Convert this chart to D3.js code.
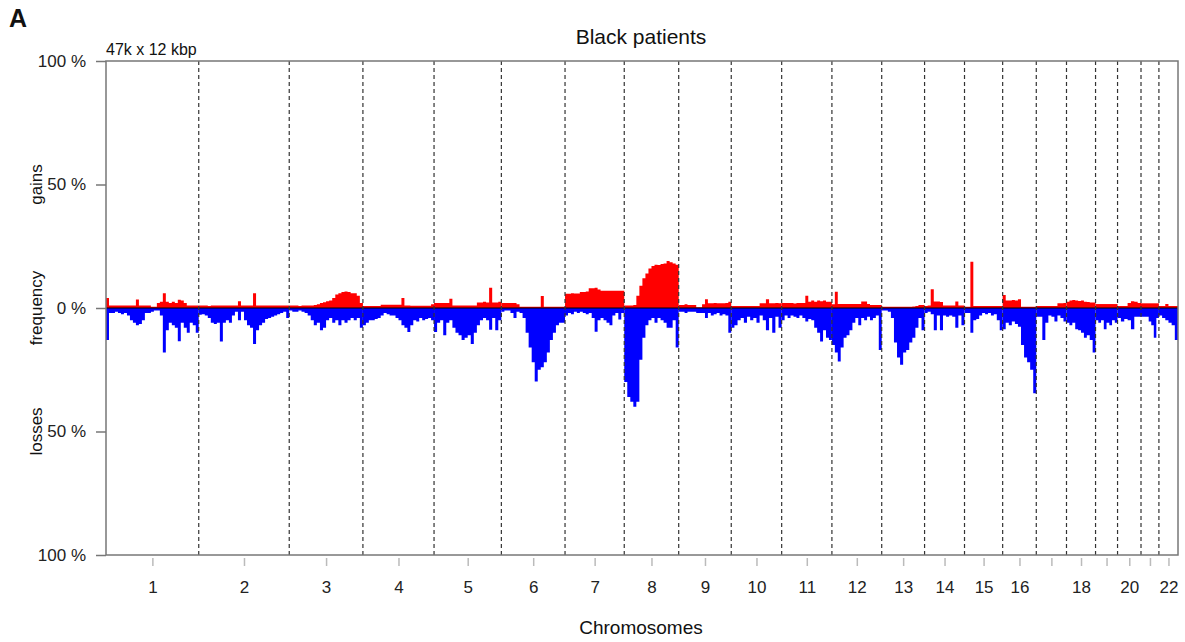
<!DOCTYPE html>
<html>
<head>
<meta charset="utf-8" />
<title>Black patients</title>
<script src="https://d3js.org/d3.v7.min.js"></script>
<style>
  body { margin: 0; background: #fff; }
  svg text { font-family: "Liberation Sans", Arial, sans-serif; fill: #111; }
</style>
</head>
<body>
<div id="chart"></div>
<script>
// chromosome sizes (Mb), used for the genome axis
var chromLengths = [249.25, 243.2, 198.02, 191.15, 180.92, 171.12, 159.14, 146.36, 141.21, 135.53, 135.01,
  133.85, 115.17, 107.35, 102.53, 90.35, 81.2, 78.08, 59.13, 63.03, 48.13, 51.3];
// R drops the labels that would overlap
var tickLabels = ["1","2","3","4","5","6","7","8","9","10","11","12","13","14","15","16","","18","","20","","22"];
var yTickValues = [100, 50, 0, -50, -100];

// gain frequency (%) per chromosome, evenly spaced bins
var gainFreq = [
  [4,1,1,1,1,1,1,1,1,1,3.4,1,1,1,1,0.5,0.5,2,2.5,6,2.5,2,2.5,2,3.3,3,2,1,1,1,1],
  [1,1,1,0.8,1,1,1,1,1,1,1,1,1,2.7,1,1,1,1,6,1,1,1,1,1,1,1,1,1,1,1],
  [1,1,1,0.8,1,1,1,1,1.2,1.5,2,2.3,2.7,3,4,5.5,6,6.5,6.7,6.5,6,6,5,2],
  [0.8,0.8,0.8,0.8,0.8,0.8,1.3,1.3,1.3,1.3,1.3,1.3,1.3,4,1,1,0.9,0.9,0.9,0.9,0.9,0.9,0.9,1.5],
  [2,2,2,2,2,3.7,1,1,1,1,1,1,1,1,2.2,2.2,2.5,2.2,8.2,2.2,2.2,2.5],
  [2,2,2,2,2,1.5,0.5,0.5,0.5,0.5,0.5,0.5,0.5,4.9,0.5,0.5,0.5,0.5,0.5,0.5,0.5],
  [5.8,5.8,6,5.9,5.9,6.5,6.5,6.7,8,8,8.2,7.5,7,7,7,7,7,7,7,7],
  [1,1,1,1.2,5,9,12,14,16,17,17.5,17.4,17.8,18,19,18.5,18,17.5],
  [1.2,1.2,1.5,1.2,1.2,1.2,0.3,0.3,1.5,3.5,1.9,1.9,2,1.9,1.9,1.9,2,2.5],
  [0.8,0.8,0.8,0.8,0.8,0.8,0.8,0.8,0.8,1.9,1.9,3.5,1.9,1.9,2,1.9],
  [2,2,2,2,1.8,2,2,2,5,2.5,3,2.5,3,2.7,3,2.5,2.5],
  [1.5,6.6,1.6,1.6,1.6,1.6,1.6,1.6,1.6,1.6,2.6,2.6,1.6,1.2,1.2,1.2,1.2],
  [0.5,0.5,0.5,0.5,0.5,0.5,0.5,0.5,0.5,0.5,0.6,0.8,1.2,1.2],
  [0.8,1,7.6,2.6,2.6,2.4,1,1,1,1,2.6,1,1],
  [0.5,0.5,18.7,0.8,0.8,0.8,0.8,0.8,0.8,0.8,0.8,0.8,0.8],
  [5.3,3,3,3.2,3,3.5,0.5,0.5,0.5,0.5,0.5],
  [0.8,0.8,0.8,0.8,0.8,0.8,0.8,1.9,1.9,2],
  [2.5,3,3.2,3,2.8,3,2.5,2.4,2.2,2.2],
  [1.6,1.6,1.6,1.6,1.6,1.6,1.6,1.6],
  [0.8,0.8,0.8,2,2.7,2.5,2],
  [1.9,1.9,1.9,1.9,1.9,1.9,1.9],
  [0.8,0.8,1.6,0.8,0.8,0.8]
];

// loss frequency (%) per chromosome
var lossFreq = [
  [13,2,2,1.5,2,2.5,2,3,5,6,7,6.5,5,2,2,1.5,1,1,3,18,9,6,7,8,13.5,6,8,10,6,7,10],
  [2.7,2.5,3,4,6,6.5,6,13.6,6,5,6,3,1.5,5,1.5,5,7,8,14.6,9,7,6,4.5,4,3.5,3,2.5,2,1.5,4],
  [1,1.5,1.5,1,1.5,2,3,5,7,6,9,8,5,4,6,5,7,5,6,5,4,5,4,8],
  [7,6,5,5,4.5,4,3,2,2.5,3,3,4,5,7,8,9.7,7,5,5.5,4,5,4.5,4,5],
  [9.7,6,5,11,6,5,8,10,11,13,12,11,14.6,10,7,5,4,5,8.8,4,9,5],
  [1.5,1,1,2,4,1.5,2,4,10,16,22,29.8,25,24,22,18,13,10,7,6,6],
  [3,2,2.5,1.5,2,1.5,2,2.5,2,4,9.6,5,4,5,6,7,3,2,4.7,2],
  [30,36,38,40,38,21,12,7,5,4,6,4,5,6,8,8,5,16],
  [1.5,1.5,2,1.5,1.5,1.5,2,2,2,4,2,3,2.5,2,3,2.5,3,10],
  [8,7,5,4,6,3.5,5,4,6,3,5,9,4,10,3.5,8],
  [5,3,4,3,3.5,4,3,4,5.5,4.5,5,8,10,13.6,9,12,13],
  [15,18,21.7,16,12,11,9,6,4,7,4,5,3.5,5,4,3,17],
  [1,1,1.5,4,14,20,23,18,17,14,12,8,4,9],
  [2,1.5,2.5,9,3,9,3,3.5,3,3.5,8,3,7],
  [2,2,10,5,4.5,3,2,2.5,2,3,2.5,5,9],
  [8.6,6,7,5.5,6.5,7.6,15,20,22,25,34.5],
  [3.5,3.5,13,6,3,3.5,5.5,3,4,5.5],
  [6,7,6,8.6,9,10,12,11,13,18],
  [5,6,5,8.6,6,7,5,6],
  [4,5.5,4.5,5,8.6,3.5,3.5],
  [3.5,3.5,3.5,5.5,7,12,4],
  [3,4,5,6,7,13]
];

var width = 1185, height = 642;
// plot box (window.top is reserved, so use other names)
var plotLeft = 106, plotRight = 1178, plotTop = 61, plotBottom = 555;

// cumulative starts of each chromosome
var starts = [], acc = 0;
chromLengths.forEach(function(l) { starts.push(acc); acc += l; });
var total = acc;

var x = d3.scaleLinear().domain([0, total]).range([plotLeft, plotRight]);
var y = d3.scaleLinear().domain([-100, 100]).range([plotBottom, plotTop]);

var svg = d3.select("#chart").append("svg")
  .attr("width", width).attr("height", height);

// turn a bin array into step points
function steps(c, vals, sign) {
  var n = vals.length, len = chromLengths[c];
  var pts = vals.map(function(v, i) { return [starts[c] + len * i / n, sign * v]; });
  pts.push([starts[c] + len, sign * vals[n - 1]]);
  return pts;
}

var area = d3.area()
  .curve(d3.curveStepAfter)
  .x(function(d) { return x(d[0]); })
  .y0(y(0))
  .y1(function(d) { return y(d[1]); });

var g = svg.append("g");
g.selectAll("path.gain").data(gainFreq).enter().append("path")
  .attr("class", "gain")
  .attr("d", function(d, i) { return area(steps(i, d, 1)); })
  .attr("fill", "#ff0000");
g.selectAll("path.loss").data(lossFreq).enter().append("path")
  .attr("class", "loss")
  .attr("d", function(d, i) { return area(steps(i, d, -1)); })
  .attr("fill", "#0000ff");

// zero line
svg.append("line")
  .attr("x1", plotLeft).attr("x2", plotRight)
  .attr("y1", y(0)).attr("y2", y(0))
  .attr("stroke", "#000").attr("stroke-width", 1);

// chromosome borders
svg.selectAll("line.border").data(starts.slice(1)).enter().append("line")
  .attr("class", "border")
  .attr("x1", function(d) { return x(d); }).attr("x2", function(d) { return x(d); })
  .attr("y1", plotTop).attr("y2", plotBottom)
  .attr("stroke", "#333").attr("stroke-width", 1.2)
  .attr("stroke-dasharray", "4,3");

// frame
svg.append("rect")
  .attr("x", plotLeft).attr("y", plotTop)
  .attr("width", plotRight - plotLeft).attr("height", plotBottom - plotTop)
  .attr("fill", "none").attr("stroke", "#777").attr("stroke-width", 1.5);

// y axis
var yAxis = d3.axisLeft(y).tickValues(yTickValues).tickSize(10).tickPadding(10)
  .tickFormat(function(d) { return Math.abs(d) + " %"; });
var ya = svg.append("g").attr("transform", "translate(" + plotLeft + ",0)").call(yAxis);
ya.select(".domain").remove();
ya.selectAll(".tick line").attr("stroke", "#777").attr("stroke-width", 1.5);
ya.selectAll(".tick text").attr("font-size", 17).style("fill", "#222");

// x axis, ticks at chromosome centres
var centres = chromLengths.map(function(l, i) { return starts[i] + l / 2; });
var xAxis = d3.axisBottom(x).tickValues(centres).tickSize(8).tickPadding(15)
  .tickFormat(function(d, i) { return tickLabels[i]; });
var xa = svg.append("g").attr("transform", "translate(0," + (plotBottom + 3) + ")").call(xAxis);
xa.select(".domain").remove();
xa.selectAll(".tick line").attr("stroke", "#bbb").attr("stroke-width", 1.5);
xa.selectAll(".tick text").attr("font-size", 17).style("fill", "#222");

// labels
svg.append("text").attr("x", 641).attr("y", 44).attr("text-anchor", "middle")
  .attr("font-size", 21).text("Black patients");
svg.append("text").attr("x", 106).attr("y", 55)
  .attr("font-size", 16).text("47k x 12 kbp");
svg.append("text").attr("x", 9).attr("y", 27)
  .attr("font-size", 25).attr("font-weight", "bold").text("A");
svg.append("text").attr("x", 641).attr("y", 634).attr("text-anchor", "middle")
  .attr("font-size", 19).text("Chromosomes");

[["gains", 50], ["frequency", 0], ["losses", -50]].forEach(function(t) {
  svg.append("text")
    .attr("transform", "translate(42," + y(t[1]) + ") rotate(-90)")
    .attr("text-anchor", "middle")
    .attr("font-size", 17)
    .text(t[0]);
});
</script>
</body>
</html>
